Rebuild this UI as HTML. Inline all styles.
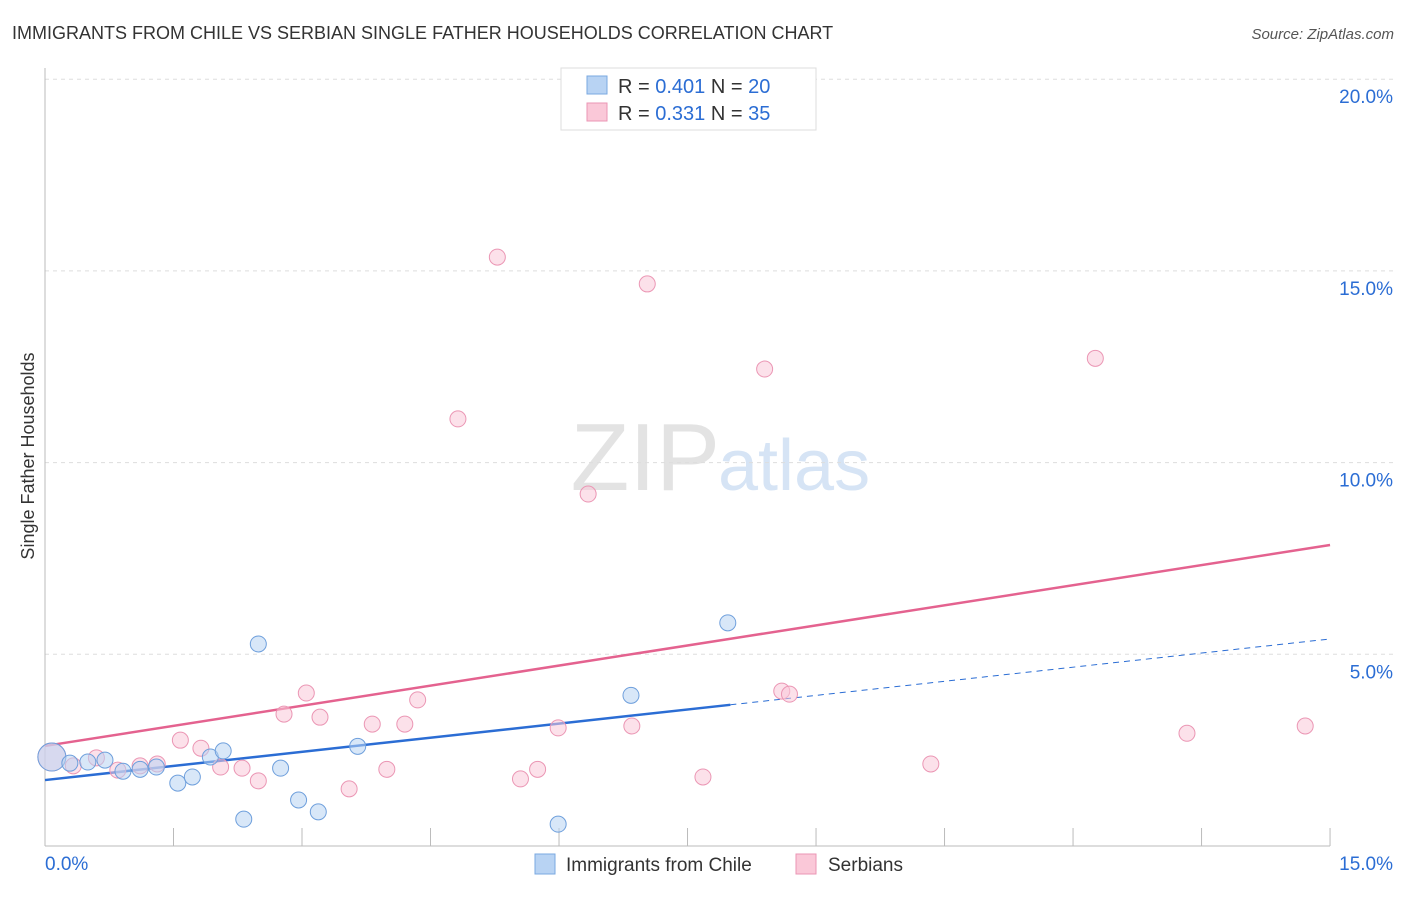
<!DOCTYPE html>
<html><head><meta charset="utf-8"><style>
body{margin:0;background:#fff;font-family:"Liberation Sans",sans-serif;}
svg text{font-family:"Liberation Sans",sans-serif;}
</style></head><body>
<svg id="chart" width="1406" height="892">
<text x="12" y="39" font-size="18" fill="#333">IMMIGRANTS FROM CHILE VS SERBIAN SINGLE FATHER HOUSEHOLDS CORRELATION CHART</text>
<text x="1394" y="39" font-size="15" fill="#555" font-style="italic" text-anchor="end">Source: ZipAtlas.com</text>
<text x="720" y="490" font-size="96" fill="#e3e3e3" text-anchor="end" font-family="Liberation Serif">ZIP</text>
<text x="718" y="490" font-size="72" fill="#d6e4f5">atlas</text>
<text transform="translate(34,456) rotate(-90)" font-size="18" fill="#333" text-anchor="middle">Single Father Households</text>
<g id="grid"></g><g id="ticks"></g><g id="lines"></g><g id="pts"></g>
<g>
<rect x="561" y="68" width="255" height="62" fill="#fff" stroke="#ddd"/>
<rect x="587" y="76" width="20" height="18" fill="#b8d3f3" stroke="#7aa8e0"/>
<text x="618" y="93" font-size="20" fill="#333">R = <tspan fill="#2b6dd4">0.401</tspan>   N = <tspan fill="#2b6dd4">20</tspan></text>
<rect x="587" y="103" width="20" height="18" fill="#fac8d8" stroke="#eb96b4"/>
<text x="618" y="120" font-size="20" fill="#333">R =  <tspan fill="#2b6dd4">0.331</tspan>   N =  <tspan fill="#2b6dd4">35</tspan></text>
</g>
<rect x="535" y="854" width="20" height="20" fill="#b8d3f3" stroke="#7aa8e0"/>
<text x="566" y="871" font-size="19" fill="#333">Immigrants from Chile</text>
<rect x="796" y="854" width="20" height="20" fill="#fac8d8" stroke="#eb96b4"/>
<text x="828" y="871" font-size="19" fill="#333">Serbians</text>
</svg>
<script>
const yTicks=[5,10,15,20];
const yTickLabels=["5.0%","10.0%","15.0%","20.0%"];
const xTicks=[1.5,3,4.5,6,7.5,9,10.5,12,13.5,15];
const chileX=[0.08,0.29,0.5,0.7,0.91,1.11,1.3,1.55,1.72,1.93,2.08,2.32,2.49,2.75,2.96,3.19,3.65,5.99,6.84,7.97];
const chileY=[2.32,2.16,2.19,2.24,1.95,2.0,2.06,1.64,1.8,2.32,2.48,0.7,5.27,2.03,1.2,0.89,2.6,0.57,3.93,5.82];
const serbX=[0.08,0.33,0.6,0.85,1.11,1.31,1.58,1.82,2.05,2.3,2.49,2.79,3.05,3.21,3.55,3.82,3.99,4.2,4.35,4.82,5.28,5.55,5.75,5.99,6.34,6.85,7.03,7.68,8.4,8.6,8.69,10.34,12.26,13.33,14.71];
const serbY=[2.32,2.09,2.3,1.98,2.09,2.14,2.76,2.55,2.06,2.03,1.7,3.44,3.99,3.36,1.49,3.18,2.0,3.18,3.81,11.14,15.36,1.75,2.0,3.08,9.18,3.13,14.66,1.8,12.44,4.04,3.96,2.14,12.72,2.94,3.13];
const chileTrend=[1.72,5.40];
const serbTrend=[2.61,7.85];
const X=v=>45+v*85.67, Y=v=>846-v*38.34;
const NS="http://www.w3.org/2000/svg";
function mk(t,a,p){const e=document.createElementNS(NS,t);for(const k in a)e.setAttribute(k,a[k]);p.appendChild(e);return e;}
const g=document.getElementById('grid');
yTicks.forEach((v,i)=>{
 const l=mk('line',{x1:45,x2:1394,y1:Y(v),y2:Y(v),stroke:'#ddd','stroke-dasharray':'4,4'},g);
 
 
 const t=mk('text',{x:1393,y:Y(v)+24,'font-size':19,fill:'#2b6dd4','text-anchor':'end'},g);t.textContent=yTickLabels[i];
 
 
});
const tk=document.getElementById('ticks');
const ax=mk('line',{x1:45,x2:45,y1:68,y2:846,stroke:'#bbb'},tk);


const bx=mk('line',{x1:45,x2:1330,y1:846,y2:846,stroke:'#bbb'},tk);


xTicks.forEach(v=>{const l=mk('line',{x1:X(v),x2:X(v),y1:828,y2:846,stroke:'#bbb'},tk);
 
 });
let t0=mk('text',{x:45,y:870,'font-size':19,fill:'#2b6dd4'},tk);t0.textContent='0.0%';


let t1=mk('text',{x:1393,y:870,'font-size':19,fill:'#2b6dd4','text-anchor':'end'},tk);t1.textContent='15.0%';


const pg=document.getElementById('pts');
function dots(xs,ys,f,s,name){xs.forEach((x,i)=>{const c=mk('circle',{cx:X(x),cy:Y(ys[i]),r:i===0?14:8,fill:f,'fill-opacity':0.55,stroke:s,'stroke-width':1},pg);
 
 });}
dots(serbX,serbY,'#fac8d8','#eb96b4','serbians-point');
dots(chileX,chileY,'#b8d3f3','#6e9fdc','chile-point');
const lg=document.getElementById('lines');
const at=(tr,x)=>tr[0]+(tr[1]-tr[0])*x/15;
const bl=mk('line',{x1:X(0),y1:Y(at(chileTrend,0)),x2:X(8),y2:Y(at(chileTrend,8)),stroke:'#2b6dd4','stroke-width':2.5},lg);


const bd=mk('line',{x1:X(8),y1:Y(at(chileTrend,8)),x2:X(15),y2:Y(at(chileTrend,15)),stroke:'#2b6dd4','stroke-width':1,'stroke-dasharray':'6,5'},lg);


const pl=mk('line',{x1:X(0),y1:Y(serbTrend[0]),x2:X(15),y2:Y(serbTrend[1]),stroke:'#e4628f','stroke-width':2.5},lg);


</script>
</body></html>
